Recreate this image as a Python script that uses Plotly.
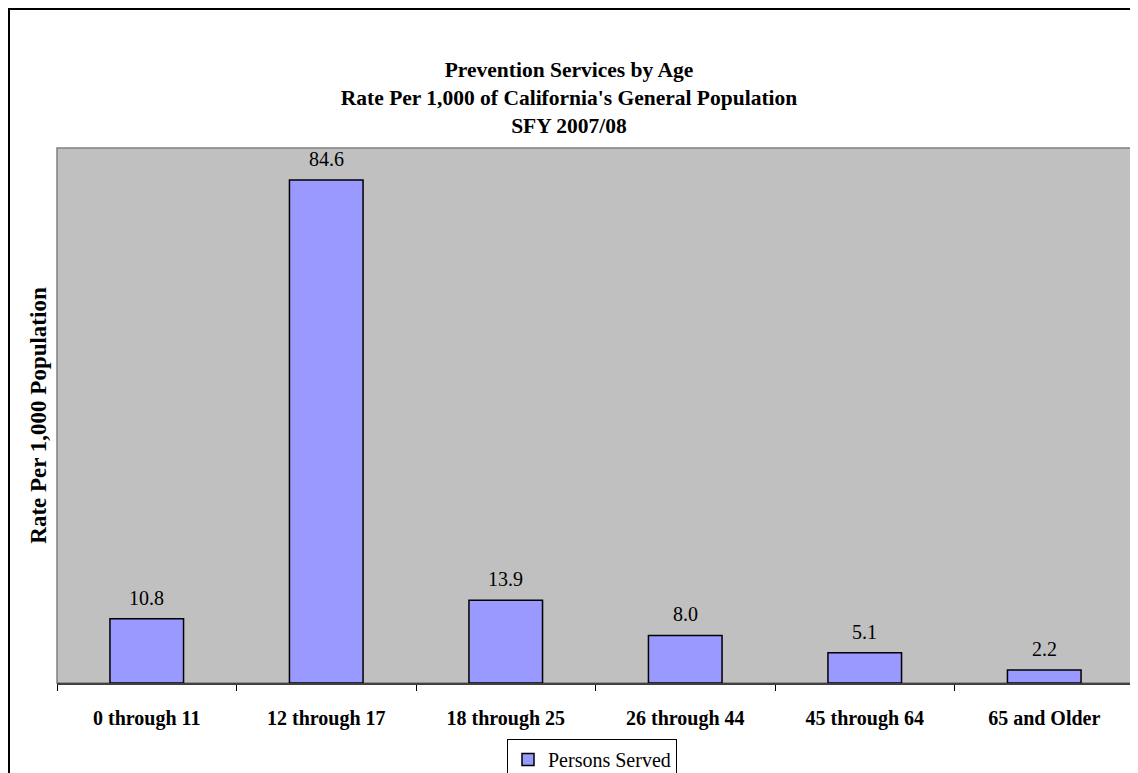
import plotly.graph_objects as go

categories = ["0 through 11", "12 through 17", "18 through 25", "26 through 44", "45 through 64", "65 and Older"]
persons_served = [10.8, 84.6, 13.9, 8.0, 5.1, 2.2]

FONT = "Liberation Serif, Times New Roman, serif"

fig = go.Figure()
fig.add_trace(go.Bar(
    x=categories, y=persons_served, name="Persons Served",
    marker=dict(color="#9999FF", line=dict(color="black", width=1.5)),
))

# figure is drawn 8px inside the page (body margin)
W, H = 1130, 765
L, R, T, B = 49, 4, 140, 90
pw, ph = W - L - R, H - T - B

annotations = [
    dict(x=c, y=v, xref="x", yref="y", text=f"{v:.1f}", showarrow=False,
         yanchor="bottom", yshift=8, font=dict(family=FONT, size=20, color="black"))
    for c, v in zip(categories, persons_served)
]

fig.update_layout(
    width=W, height=H,
    margin=dict(l=L, r=R, t=T, b=B, autoexpand=False),
    paper_bgcolor="white", plot_bgcolor="#C0C0C0",
    bargap=0.59,
    font=dict(family=FONT, color="black"),
    title=dict(
        text="<b>Prevention Services by Age<br>Rate Per 1,000 of California's General Population<br>SFY 2007/08</b>",
        x=(561 - L) / pw, xref="paper", xanchor="center", y=1 - 69 / H, yanchor="top", yref="container",
        font=dict(family=FONT, size=21.5, color="black"),
    ),
    showlegend=True,
    legend=dict(
        orientation="h", x=(584 - L) / pw, xanchor="center",
        yref="container", y=(H - 731) / H, yanchor="top",
        bordercolor="black", borderwidth=1, bgcolor="white",
        font=dict(family=FONT, size=20, color="black"),
        itemwidth=30,
    ),
    xaxis=dict(
        categoryorder="array", categoryarray=categories,
        tickvals=categories, ticktext=[f"<b>{c}</b>" for c in categories],
        tickson="boundaries", ticks="outside", ticklen=6, tickcolor="black", tickwidth=1,
        showline=True, linecolor="#404040", linewidth=1.5,
        tickfont=dict(family=FONT, size=20, color="black"),
        showgrid=False, ticklabelstandoff=16,
    ),
    yaxis=dict(
        range=[0, 90], showticklabels=False, ticks="", showgrid=False, zeroline=False,
        title=dict(text="<b>Rate Per 1,000 Population</b>", font=dict(family=FONT, size=23, color="black"), standoff=2),
    ),
    annotations=annotations,
    shapes=[
        dict(type="rect", xref="paper", yref="paper", x0=0, x1=1, y0=0, y1=1,
             line=dict(color="#808080", width=1.5), fillcolor="rgba(0,0,0,0)", layer="below"),
        dict(type="rect", xref="paper", yref="paper",
             x0=(1 - L) / pw, x1=(W - 1 - L) / pw, y0=-(800 - (T + ph)) / ph, y1=((T + ph) - 1) / ph,
             line=dict(color="black", width=2), fillcolor="rgba(0,0,0,0)"),
    ],
)

fig.write_html("out.html")
